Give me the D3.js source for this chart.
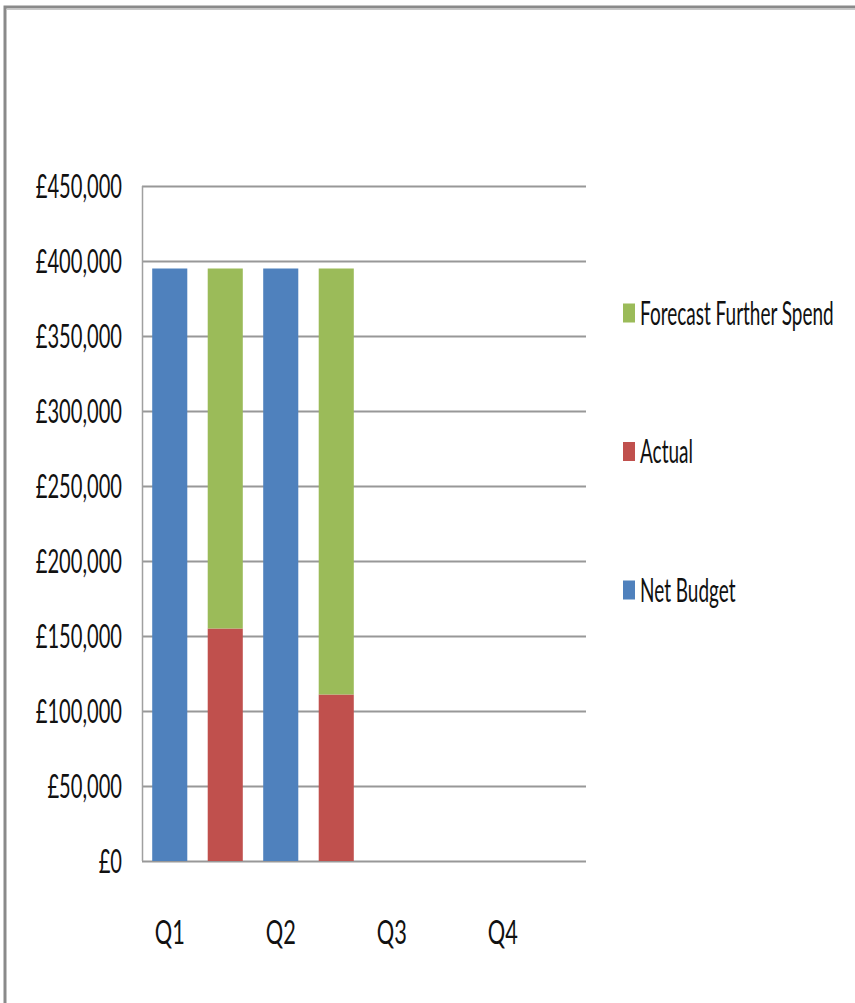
<!DOCTYPE html>
<html>
<head>
<meta charset="utf-8">
<script src="https://cdn.jsdelivr.net/npm/d3@7"></script>
<style>
  html, body { margin: 0; padding: 0; background: #fff; }
  svg { display: block; }
  text { font-family: "Lato", "Liberation Sans", sans-serif; fill: #111; }
</style>
</head>
<body>
<script>
// ---- data ----
const quarters = ["Q1", "Q2", "Q3", "Q4"];
const netBudget = [395000, 395000, null, null];
const actual = [155000, 111000, null, null];
const forecast = [240000, 284000, null, null];
const yTicks = [0, 50000, 100000, 150000, 200000, 250000, 300000, 350000, 400000, 450000];
const legendItems = ["Forecast Further Spend", "Actual", "Net Budget"];
const colors = { "Net Budget": "#4F81BD", "Actual": "#C0504D", "Forecast Further Spend": "#9BBB59" };

const W = 855, H = 1003;
const svg = d3.select("body").append("svg").attr("width", W).attr("height", H);

// frame
svg.append("rect").attr("x", 5).attr("y", 7).attr("width", W + 20).attr("height", H + 20)
  .attr("fill", "none").attr("stroke", "#8a8a8a").attr("stroke-width", 3);
svg.append("line").attr("x1", 7).attr("x2", W).attr("y1", 9.5).attr("y2", 9.5)
  .attr("stroke", "#c8c8c8").attr("stroke-width", 1);

const plot = { left: 142, right: 586, top: 186, bottom: 861 };

const y = d3.scaleLinear().domain([0, 450000]).range([plot.bottom, plot.top]);
const xQ = d3.scaleBand().domain(quarters).range([plot.left, plot.right]).padding(0);
const xIn = d3.scaleBand().domain(["budget", "spend"]).range([0, xQ.bandwidth()])
  .paddingInner(0.368).paddingOuter(0.184);

// gridlines
svg.append("g").selectAll("line").data(yTicks).join("line")
  .attr("x1", plot.left).attr("x2", plot.right)
  .attr("y1", d => Math.round(y(d)) + 0.5).attr("y2", d => Math.round(y(d)) + 0.5)
  .attr("stroke", "#989898").attr("stroke-width", 2);

// y axis line
svg.append("line").attr("x1", plot.left + 0.5).attr("x2", plot.left + 0.5)
  .attr("y1", plot.top).attr("y2", plot.bottom)
  .attr("stroke", "#a0a0a0").attr("stroke-width", 1.5);

// y labels
const fmt = d => "£" + d3.format(",")(d);
svg.append("g").selectAll("g").data(yTicks).join("g")
  .attr("transform", d => `translate(122,${y(d)})`)
  .append("text")
  .attr("transform", "scale(0.61,1)")
  .attr("text-anchor", "end").attr("dy", "0.36em")
  .style("font-size", "33px")
  .text(fmt);

// bars
const bw = xIn.bandwidth();
const barG = svg.append("g");
quarters.forEach((q, i) => {
  if (netBudget[i] != null) {
    barG.append("rect")
      .attr("x", xQ(q) + xIn("budget")).attr("width", bw)
      .attr("y", y(netBudget[i])).attr("height", y(0) - y(netBudget[i]))
      .attr("fill", colors["Net Budget"]);
  }
  if (actual[i] != null) {
    barG.append("rect")
      .attr("x", xQ(q) + xIn("spend")).attr("width", bw)
      .attr("y", y(actual[i])).attr("height", y(0) - y(actual[i]))
      .attr("fill", colors["Actual"]);
    barG.append("rect")
      .attr("x", xQ(q) + xIn("spend")).attr("width", bw)
      .attr("y", y(actual[i] + forecast[i])).attr("height", y(actual[i]) - y(actual[i] + forecast[i]))
      .attr("fill", colors["Forecast Further Spend"]);
  }
});

// x labels
svg.append("g").selectAll("g").data(quarters).join("g")
  .attr("transform", q => `translate(${xQ(q) + xIn("budget") + bw / 2},932)`)
  .append("text")
  .attr("transform", "scale(0.66,1)")
  .attr("text-anchor", "middle").attr("dy", "0.36em")
  .style("font-size", "33px")
  .text(q => q);

// legend
const legendY = d3.scalePoint().domain(legendItems).range([313, 590]);
const lg = svg.append("g").selectAll("g").data(legendItems).join("g")
  .attr("transform", d => `translate(623,${legendY(d)})`);
lg.append("rect").attr("x", 0).attr("y", -9.5).attr("width", 12).attr("height", 19)
  .attr("fill", d => colors[d]);
lg.append("g").attr("transform", "translate(17,0)")
  .append("text")
  .attr("transform", "scale(0.575,1)")
  .attr("dy", "0.36em")
  .style("font-size", "33px")
  .text(d => d);
</script>
</body>
</html>
